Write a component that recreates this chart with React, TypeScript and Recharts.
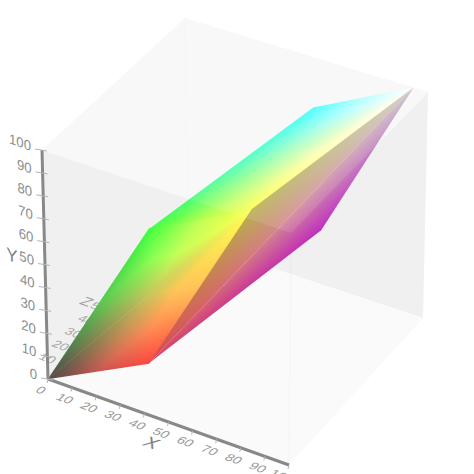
import { ScatterChart, Scatter, XAxis, YAxis } from 'recharts'

// XYZ values of the gamut corners
const black = [0, 0, 0]
const red = [41.2, 21.3, 1.9]
const green = [36.5, 72.3, 11.9]
const yellow = [77.5, 94.5, 13.8]
const cyan = [53.8, 78.7, 107]
const magenta = [62.5, 33, 97]
const white = [94, 100, 108.9]

const xTicks = [0, 10, 20, 30, 40, 50, 60, 70, 80, 90, 100]
const yTicks = [0, 10, 20, 30, 40, 50, 60, 70, 80, 90, 100]
const zTicks = [10, 20, 30, 40, 50]

const wallBack = [[0, 100, 0], [0, 0, 0], [0, 0, 109], [100, 0, 109], [100, 100, 109], [100, 100, 0]]
const wallTop = [[0, 100, 0], [0, 100, 109], [100, 100, 109], [100, 100, 0]]
const wallBottom = [[0, 0, 0], [100, 0, 0], [100, 0, 109], [0, 0, 109]]
const edgeBack = [[0, 100, 109], [0, 0, 109]]
const edgeFront = [[100, 100, 0], [100, 0, 0]]

// screen position of the eight cube corners
const C = {
  c000: [48, 379], c100: [289, 465], c010: [42, 150], c110: [291, 233],
  c001: [188, 240], c101: [423, 318], c011: [185, 18], c111: [428, 92],
}

function project(p: number[]) {
  const x = p[0] / 100, y = p[1] / 100, z = p[2] / 109
  const at = (i: number) =>
    (1 - z) * ((1 - y) * ((1 - x) * C.c000[i] + x * C.c100[i]) + y * ((1 - x) * C.c010[i] + x * C.c110[i])) +
    z * ((1 - y) * ((1 - x) * C.c001[i] + x * C.c101[i]) + y * ((1 - x) * C.c011[i] + x * C.c111[i]))
  return { px: at(0), py: at(1) }
}

const toData = (pts: number[][]) => pts.map(project)

function flat(fill: string) {
  return (p: any) => (
    <polygon points={p.points.map((q: any) => `${q.x},${q.y}`).join(' ')} fill={fill} stroke="none" />
  )
}

function stroke(color: string, width: number) {
  return (p: any) => (
    <line x1={p.points[0].x} y1={p.points[0].y} x2={p.points[1].x} y2={p.points[1].y} stroke={color} strokeWidth={width} />
  )
}

// three colour triangle: one gradient per corner, added together inside a clip
function shaded(id: string, colors: string[], mid: number) {
  return (p: any) => {
    const pts = p.points
    const feet = pts.map((a: any, i: number) => {
      const b = pts[(i + 1) % 3], c = pts[(i + 2) % 3]
      const dx = c.x - b.x, dy = c.y - b.y
      const t = ((a.x - b.x) * dx + (a.y - b.y) * dy) / (dx * dx + dy * dy)
      return { x: b.x + t * dx, y: b.y + t * dy }
    })
    // clip a little wider so neighbouring triangles leave no seam
    const mx = (pts[0].x + pts[1].x + pts[2].x) / 3
    const my = (pts[0].y + pts[1].y + pts[2].y) / 3
    const str = pts
      .map((q: any) => {
        const d = Math.hypot(q.x - mx, q.y - my)
        return `${q.x + ((q.x - mx) / d) * 0.7},${q.y + ((q.y - my) / d) * 0.7}`
      })
      .join(' ')
    return (
      <g>
        <defs>
          <clipPath id={`${id}clip`}>
            <polygon points={str} />
          </clipPath>
          {pts.map((a: any, i: number) => (
            <linearGradient key={i} id={`${id}${i}`} gradientUnits="userSpaceOnUse" x1={a.x} y1={a.y} x2={feet[i].x} y2={feet[i].y}>
              <stop offset="0" stopColor={colors[i]} />
              <stop offset="0.5" stopColor={colors[i]} stopOpacity={mid} />
              <stop offset="1" stopColor={colors[i]} stopOpacity={0} />
            </linearGradient>
          ))}
        </defs>
        <g clipPath={`url(#${id}clip)`} style={{ isolation: 'isolate' }}>
          <rect x={0} y={0} width={474} height={474} fill="#000" />
          {pts.map((_: any, i: number) => (
            <rect key={i} x={0} y={0} width={474} height={474} fill={`url(#${id}${i})`} style={{ mixBlendMode: 'plus-lighter' }} />
          ))}
        </g>
      </g>
    )
  }
}

const noDot = () => <g />

function tickLabel(dx: number, dy: number, transform: string, size: number, anchor: string, color: string, tick?: number[]) {
  return (p: any) => (
    <g>
      {tick && <line x1={p.cx + tick[0]} y1={p.cy + tick[1]} x2={p.cx + tick[2]} y2={p.cy + tick[3]} stroke="#b4b4b4" strokeWidth={1} />}
      <text
        transform={`translate(${p.cx + dx},${p.cy + dy}) ${transform}`}
        fontFamily="'Liberation Sans', Arial, sans-serif"
        fontSize={size}
        fill={color}
        textAnchor={anchor as any}
      >
        {p.payload.label}
      </text>
    </g>
  )
}

const xLabels = xTicks.map((t) => ({ ...project([t, 0, 0]), label: String(t) }))
const yLabels = yTicks.map((t) => ({ ...project([0, t, 0]), label: String(t) }))
const zLabels = zTicks.map((t) => ({ ...project([0, 0, t]), label: String(t) }))

const floorText = 'matrix(0.93,0.34,-0.6,0.62,0,0)'
const wallText = 'matrix(0.94,0.33,0,1,0,0)'

const faces = [
  { id: 'a', pts: [black, red, yellow], colors: ['#504a48', '#ff4840', '#ffff50'], mid: 0.6 },
  { id: 'b', pts: [black, yellow, green], colors: ['#504a48', '#ffff50', '#40ff40'], mid: 0.6 },
  { id: 'c', pts: [green, yellow, white], colors: ['#40ff40', '#ffff50', '#ffffff'], mid: 0.55 },
  { id: 'd', pts: [green, white, cyan], colors: ['#40ff40', '#ffffff', '#40ffff'], mid: 0.55 },
  { id: 'e', pts: [red, yellow, white], colors: ['#d84850', '#b8b050', '#cfcbc4'], mid: 0.5 },
  { id: 'f', pts: [red, white, magenta], colors: ['#d84860', '#c8c0c8', '#c030c0'], mid: 0.5 },
]

export default function App() {
  return (
    <div style={{ position: 'absolute', left: 0, top: 0, width: 474, height: 474, overflow: 'hidden' }}>
      <ScatterChart width={474} height={474} margin={{ top: 0, right: 0, bottom: 0, left: 0 }}>
        <XAxis type="number" dataKey="px" domain={[0, 474]} hide />
        <YAxis type="number" dataKey="py" domain={[0, 474]} reversed hide />

        <Scatter data={toData(wallBack)} shape={noDot} line={flat('#f0f0f0')} isAnimationActive={false} />
        <Scatter data={toData(wallTop)} shape={noDot} line={flat('#f8f8f8')} isAnimationActive={false} />
        <Scatter data={toData(wallBottom)} shape={noDot} line={flat('#fafafa')} isAnimationActive={false} />
        <Scatter data={toData(edgeBack)} shape={noDot} line={stroke('rgba(0,0,0,0.012)', 2)} isAnimationActive={false} />
        <Scatter data={toData(edgeFront)} shape={noDot} line={stroke('rgba(0,0,0,0.015)', 2)} isAnimationActive={false} />

        <Scatter data={zLabels} shape={tickLabel(-16, -5, floorText, 14, 'middle', '#a8a8a8')} isAnimationActive={false} />
        <Scatter data={[{ ...project([0, 0, 50]), label: 'Z' }]} shape={tickLabel(-29, -10, floorText, 17, 'middle', '#a0a0a0')} isAnimationActive={false} />

        {faces.map((f) => (
          <Scatter key={f.id} data={toData(f.pts)} shape={noDot} line={shaded(f.id, f.colors, f.mid)} isAnimationActive={false} />
        ))}

        <Scatter data={toData(wallTop)} shape={noDot} line={flat('rgba(255,255,255,0.1)')} isAnimationActive={false} />

        <Scatter data={toData([[0, 0, 0], [0, 100, 0]])} shape={noDot} line={stroke('#888888', 3)} isAnimationActive={false} />
        <Scatter data={toData([[0, 0, 0], [100, 0, 0]])} shape={noDot} line={stroke('#888888', 3)} isAnimationActive={false} />

        <Scatter data={xLabels} shape={tickLabel(-10, 14, floorText, 14, 'middle', '#989898', [0, 0, -1, 4])} isAnimationActive={false} />
        <Scatter data={yLabels} shape={tickLabel(-11, 1, wallText, 14, 'end', '#8c8c8c', [-7, -1, 5, 1])} isAnimationActive={false} />
        <Scatter data={[{ ...project([50, 0, 0]), label: 'X' }]} shape={tickLabel(-21, 25, floorText, 20, 'middle', '#808080')} isAnimationActive={false} />
        <Scatter data={[{ ...project([0, 50, 0]), label: 'Y' }]} shape={tickLabel(-33, -3, wallText, 18, 'middle', '#808080')} isAnimationActive={false} />
      </ScatterChart>
    </div>
  )
}
